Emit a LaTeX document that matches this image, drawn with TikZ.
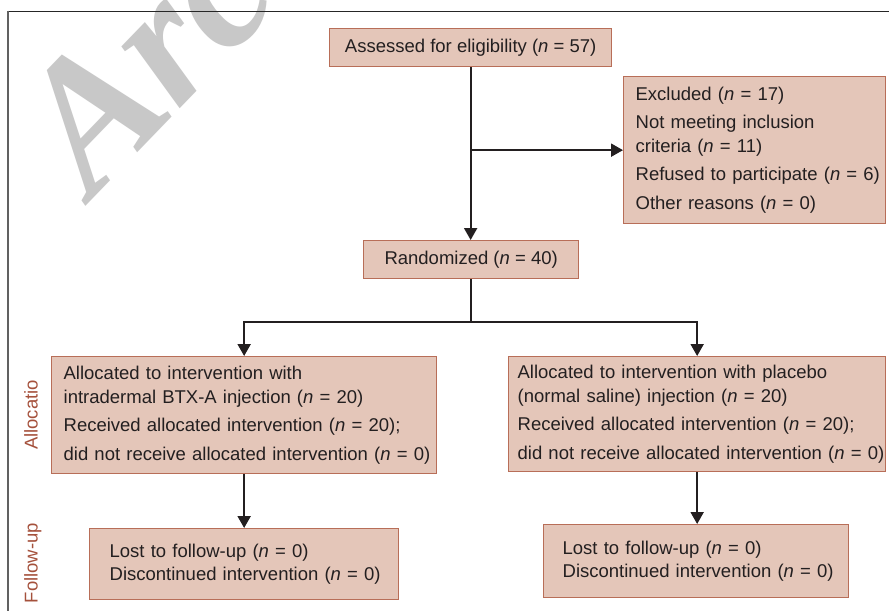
\documentclass[tikz,border=0pt]{standalone}
\usepackage{fontspec}
\setmainfont{Liberation Sans}
\newfontfamily\wmfont{Liberation Serif}
\usetikzlibrary{arrows.meta}
\definecolor{boxfill}{HTML}{E4C6B9}
\definecolor{boxdraw}{HTML}{B86E58}
\definecolor{txt}{HTML}{231F20}
\definecolor{lblcol}{HTML}{A5513C}
\definecolor{wmcol}{HTML}{C8C8C8}
\newcommand{\lpad}[1]{\leftskip=#1\relax\rightskip=0pt plus 1fil\relax}
\newcommand{\nsym}{{\itshape n}}
\begin{document}
\begin{tikzpicture}[x=1pt,y=-1pt,
  box/.style={draw=boxdraw, fill=boxfill, line width=1.3pt, text=txt,
    font=\fontsize{18.5}{23.5}\selectfont, inner ysep=0pt, inner xsep=0pt, anchor=north west},
  lbox/.style={box, align=left},
  ln/.style={draw=txt, line width=2.1pt},
  arr/.style={ln, -{Triangle[length=12pt,width=13pt]}},
  sidelbl/.style={text=lblcol, font=\fontsize{18.5}{22}\selectfont, rotate=90, anchor=base, inner sep=0pt},
  wmark/.style={text=wmcol, font=\wmfont\bfseries\itshape\fontsize{185}{185}\selectfont, rotate=46, anchor=base west, inner sep=0pt}
]
\useasboundingbox (0,0) rectangle (889,611);
\clip (0,0) rectangle (889,611);
\fill[white] (0,0) rectangle (889,611);

% watermark
\node[wmark] (wm) at (92,200) {Arc};

% frame
\draw[draw=black!85, line width=1pt] (8,11) -- (889,11);
\draw[draw=black!62, line width=2pt] (8,10.5) -- (8,611);

% boxes
\node[box, minimum width=282, minimum height=38] (assess) at (329,28)
  {Assessed for eligibility (\nsym{} = 57)};
\node[lbox, text width=262, minimum height=147] (excl) at (623,76)
  {\lpad{12pt}Excluded (\nsym{} = 17)\\[5pt]
   Not meeting inclusion\\
   criteria (\nsym{} = 11)\\[5pt]
   Refused to participate (\nsym{} = 6)\\[5pt]
   Other reasons (\nsym{} = 0)\par};
\node[box, minimum width=215, minimum height=38] (rand) at (363,240)
  {Randomized (\nsym{} = 40)};
\node[lbox, text width=385, minimum height=117] (allocL) at (51,356)
  {\lpad{12pt}Allocated to intervention with\\
   intradermal BTX-A injection (\nsym{} = 20)\\[5pt]
   Received allocated intervention (\nsym{} = 20);\\[5pt]
   did not receive allocated intervention (\nsym{} = 0)\par};
\node[lbox, text width=377, minimum height=115] (allocR) at (508,356)
  {\lpad{9pt}Allocated to intervention with placebo\\
   (normal saline) injection (\nsym{} = 20)\\[5pt]
   Received allocated intervention (\nsym{} = 20);\\[5pt]
   did not receive allocated intervention (\nsym{} = 0)\par};
\node[lbox, text width=309, minimum height=71] (fuL) at (89,528)
  {\lpad{20pt}Lost to follow-up (\nsym{} = 0)\\
   Discontinued intervention (\nsym{} = 0)\par};
\node[lbox, text width=305, minimum height=73] (fuR) at (543,524)
  {\lpad{19pt}Lost to follow-up (\nsym{} = 0)\\
   Discontinued intervention (\nsym{} = 0)\par};

% side labels
\node[sidelbl] (lalloc) at (37.5,415) {Allocatio};
\node[sidelbl] (lfu) at (37.5,563) {Follow-up};

% connectors
\draw[arr] (assess.south) -- (assess.south |- rand.north);
\coordinate (br) at (assess.south |- excl.west);
\draw[arr] (br) -- (excl.west);
\path (rand.south) ++(0,43) coordinate (split);
\draw[ln] (rand.south) -- (split);
\draw[arr] (split) -| (allocL.north);
\draw[arr] (split) -| (allocR.north);
\draw[arr] (allocL.south) -- (fuL.north);
\draw[arr] (allocR.south) -- (allocR.south |- fuR.north);
\end{tikzpicture}
\end{document}
